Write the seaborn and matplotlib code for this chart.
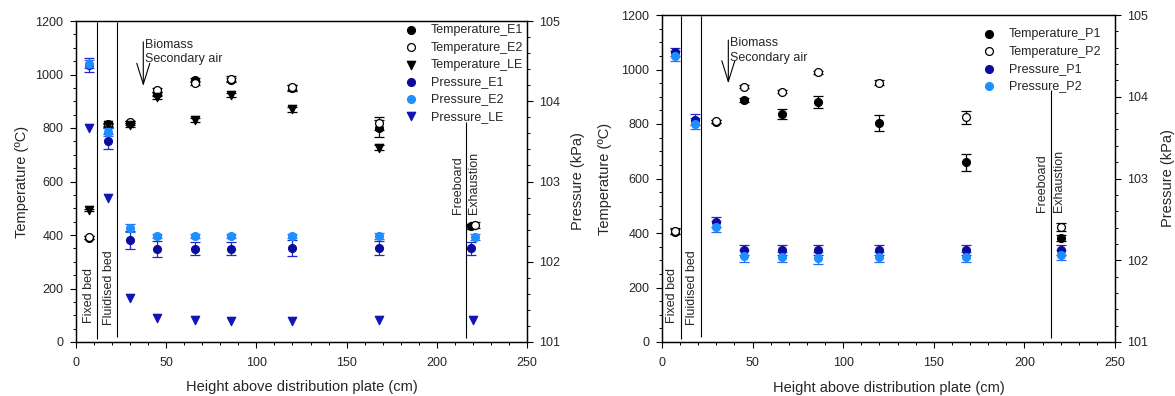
import matplotlib
matplotlib.use("Agg")
import matplotlib.pyplot as plt
from matplotlib.ticker import MultipleLocator
import seaborn as sns
import numpy as np

# ---------------- data: left panel (E1, E2, LE) ----------------
x_E = [7, 18, 30, 45, 66, 86, 120, 168, 219]
x_E2 = [7, 18, 30, 45, 66, 86, 120, 168, 221]
x_LE_T = [7, 18, 30, 45, 66, 86, 120, 168]
x_LE_P = [7, 18, 30, 45, 66, 86, 120, 168, 220]

Temperature_E1 = [390, 808, 818, 928, 979, 980, 950, 799, 432]
Temperature_E1_err = [5, 8, 8, 8, 8, 8, 10, 32, 10]
Temperature_E2 = [391, 814, 822, 941, 967, 984, 952, 817, 437]
Temperature_E2_err = [5, 5, 5, 8, 8, 10, 10, 25, 10]
Temperature_LE = [493, 811, 811, 917, 830, 923, 870, 726]
Temperature_LE_err = [5, 8, 8, 8, 8, 8, 10, 10]

Pressure_E1 = [104.45, 103.50, 102.27, 102.16, 102.16, 102.16, 102.17, 102.17, 102.17]
Pressure_E1_err = [0.09, 0.09, 0.11, 0.10, 0.08, 0.08, 0.10, 0.09, 0.08]
Pressure_E2 = [104.46, 103.62, 102.42, 102.32, 102.32, 102.32, 102.32, 102.32, 102.31]
Pressure_E2_err = [0.05, 0.05, 0.05, 0.03, 0.03, 0.03, 0.03, 0.04, 0.04]
Pressure_LE = [103.67, 102.80, 101.55, 101.30, 101.28, 101.26, 101.26, 101.28, 101.28]

# ---------------- data: right panel (P1, P2) ----------------
x_P_T = [7, 30, 45, 66, 86, 120, 168, 220]
x_P = [7, 18, 30, 45, 66, 86, 120, 168, 220]
Temperature_P1 = [405, 808, 888, 836, 882, 805, 659, 381]
Temperature_P1_err = [8, 5, 8, 18, 22, 29, 32, 10]
Temperature_P2 = [407, 810, 937, 919, 990, 952, 825, 423]
Temperature_P2_err = [12, 5, 5, 5, 5, 8, 24, 15]
Pressure_P1 = [104.55, 103.72, 102.47, 102.13, 102.125, 102.125, 102.125, 102.13, 102.125]
Pressure_P1_err = [0.05, 0.07, 0.06, 0.06, 0.06, 0.06, 0.06, 0.06, 0.06]
Pressure_P2 = [104.50, 103.67, 102.41, 102.05, 102.04, 102.03, 102.04, 102.04, 102.06]
Pressure_P2_err = [0.06, 0.07, 0.07, 0.07, 0.06, 0.07, 0.06, 0.06, 0.06]

x_ticks = [0, 50, 100, 150, 200, 250]
T_ticks = [0, 200, 400, 600, 800, 1000, 1200]
P_ticks = [101, 102, 103, 104, 105]

# zone boundaries (height, cm)
zones_left = [11.4, 22.5, 216]
zones_right = [10.3, 21.4, 214.7]

# ---------------- style ----------------
sns.set_style("ticks")
plt.rcParams['font.family'] = ['Liberation Sans', 'DejaVu Sans']
plt.rcParams['axes.linewidth'] = 0.9

C_DARK = '#0b0b9e'
C_LIGHT = '#1e8fff'
C_TRI = '#1414b4'
MS = 32
TICK_FS = 9
LAB_FS = 10.5
TXT_FS = 9

fig = plt.figure(figsize=(11.75, 3.96), dpi=100)
W, H = 1175, 396
axL = fig.add_axes([76 / W, 1 - 342 / H, 451 / W, 321 / H])
axR = fig.add_axes([662 / W, 1 - 342 / H, 453 / W, 327 / H])


def style_axes(ax, ax2):
    ax.set_xlim(0, 250)
    ax.set_ylim(0, 1200)
    ax2.set_ylim(101, 105)
    ax.set_xticks(x_ticks)
    ax.set_yticks(T_ticks)
    ax2.set_yticks(P_ticks)
    ax.xaxis.set_minor_locator(MultipleLocator(10))
    ax.yaxis.set_minor_locator(MultipleLocator(50))
    ax2.yaxis.set_minor_locator(MultipleLocator(0.2))
    for a in (ax, ax2):
        a.tick_params(which='major', direction='out', length=4, width=0.8,
                      labelsize=TICK_FS, pad=5, color='black')
        a.tick_params(which='minor', direction='out', length=2.5, width=0.7,
                      color='black')
        for s in a.spines.values():
            s.set_visible(True)
            s.set_color('black')
            s.set_linewidth(0.9)
    ax.tick_params(axis='x', which='major', pad=7)
    ax.tick_params(axis='x', which='both', top=False)
    ax2.tick_params(axis='y', which='both', left=False)
    ax.set_xlabel('Height above distribution plate (cm)', fontsize=LAB_FS)
    ax.set_ylabel('Temperature (ºC)', fontsize=LAB_FS)
    ax2.set_ylabel('Pressure (kPa)', fontsize=LAB_FS)
    ax.xaxis.set_label_coords(0.5, -0.118)


def scat(ax, x, y, marker, face, edge, label, err=None, ecol=None, z=3):
    if err is not None:
        ax.errorbar(x, y, yerr=err, fmt='none', ecolor=ecol, elinewidth=0.9,
                    capsize=3.5, capthick=0.9, zorder=z)
    sns.scatterplot(x=x, y=y, marker=marker, s=MS if marker == 'o' else MS + 4,
                    color=face, edgecolor=edge, linewidth=0.9, ax=ax,
                    label=label, zorder=z + 0.5, legend=False)


def annotate_zones(ax, zones, fixed_x, fluid_x, free_x, exh_x, top_free,
                   arrow_x, arrow_top, arrow_tip, bio_y, sec_y):
    ax.vlines([zones[0]], 10, 1195, color='black', lw=0.8)
    ax.vlines([zones[1]], 20, 1195, color='black', lw=0.8)
    ax.vlines([zones[2]], 15, top_free, color='black', lw=0.8)
    ax.text(fixed_x, 70, 'Fixed bed', rotation=90, ha='center', va='bottom',
            fontsize=TXT_FS)
    ax.text(fluid_x, 62, 'Fluidised bed', rotation=90, ha='center', va='bottom',
            fontsize=TXT_FS)
    ax.text(free_x, 478, 'Freeboard', rotation=90, ha='center', va='bottom',
            fontsize=TXT_FS)
    ax.text(exh_x, 478, 'Exhaustion', rotation=90, ha='center', va='bottom',
            fontsize=TXT_FS)
    ax.annotate('', xy=(arrow_x, arrow_tip), xytext=(arrow_x, arrow_top),
                arrowprops=dict(arrowstyle='->,head_length=1.5,head_width=0.47',
                                lw=0.8, color='black', shrinkA=0, shrinkB=0,
                                mutation_scale=10))
    ax.text(arrow_x + 0.8, bio_y, 'Biomass', ha='left', va='center', fontsize=TXT_FS)
    ax.text(arrow_x + 0.8, sec_y, 'Secondary air', ha='left', va='center',
            fontsize=TXT_FS)


# ---------------- left panel ----------------
axL2 = axL.twinx()
style_axes(axL, axL2)
annotate_zones(axL, zones_left, 7.2, 18.3, 212, 220.6, 823,
               37.3, 1122, 957, 1110, 1057)
scat(axL, x_E, Temperature_E1, 'o', 'black', 'black', 'Temperature_E1',
     Temperature_E1_err, 'black')
scat(axL, x_E2, Temperature_E2, 'o', 'white', 'black', 'Temperature_E2',
     Temperature_E2_err, 'black')
scat(axL, x_LE_T, Temperature_LE, 'v', 'black', 'black', 'Temperature_LE',
     Temperature_LE_err, 'black')
scat(axL2, x_E, Pressure_E1, 'o', C_DARK, C_DARK, 'Pressure_E1',
     Pressure_E1_err, '#2525d0')
scat(axL2, x_E2, Pressure_E2, 'o', C_LIGHT, C_LIGHT, 'Pressure_E2',
     Pressure_E2_err, '#2a6cf0')
scat(axL2, x_LE_P, Pressure_LE, 'v', C_TRI, C_TRI, 'Pressure_LE')

h1, l1 = axL.get_legend_handles_labels()
h2, l2 = axL2.get_legend_handles_labels()
axL2.legend(h1 + h2, l1 + l2, loc='upper left',
            bbox_to_anchor=((403 - 76) / 451, (342 - 24.5) / 321),
            frameon=False, fontsize=TXT_FS, borderpad=0, labelspacing=0.42,
            handlelength=1.2, handletextpad=1.0, borderaxespad=0)
axL.yaxis.set_label_coords(-0.104, 0.5)
axL2.yaxis.set_label_coords(1.0976, 0.5)

# ---------------- right panel ----------------
axR2 = axR.twinx()
style_axes(axR, axR2)
annotate_zones(axR, zones_right, 5.7, 16.7, 209.7, 219, 925,
               36.6, 1108, 949, 1098, 1043)
scat(axR, x_P_T, Temperature_P1, 'o', 'black', 'black', 'Temperature_P1',
     Temperature_P1_err, 'black')
scat(axR, x_P_T, Temperature_P2, 'o', 'white', 'black', 'Temperature_P2',
     Temperature_P2_err, 'black')
scat(axR2, x_P, Pressure_P1, 'o', C_DARK, C_DARK, 'Pressure_P1',
     Pressure_P1_err, '#2525d0')
scat(axR2, x_P, Pressure_P2, 'o', C_LIGHT, C_LIGHT, 'Pressure_P2',
     Pressure_P2_err, '#2a6cf0')

h1, l1 = axR.get_legend_handles_labels()
h2, l2 = axR2.get_legend_handles_labels()
axR2.legend(h1 + h2, l1 + l2, loc='upper left',
            bbox_to_anchor=((981 - 662) / 453, (342 - 28.5) / 327),
            frameon=False, fontsize=TXT_FS, borderpad=0, labelspacing=0.42,
            handlelength=1.2, handletextpad=1.0, borderaxespad=0)
axR.yaxis.set_label_coords(-0.110, 0.5)
axR2.yaxis.set_label_coords(1.1015, 0.5)

fig.savefig('out.png', dpi=100)
